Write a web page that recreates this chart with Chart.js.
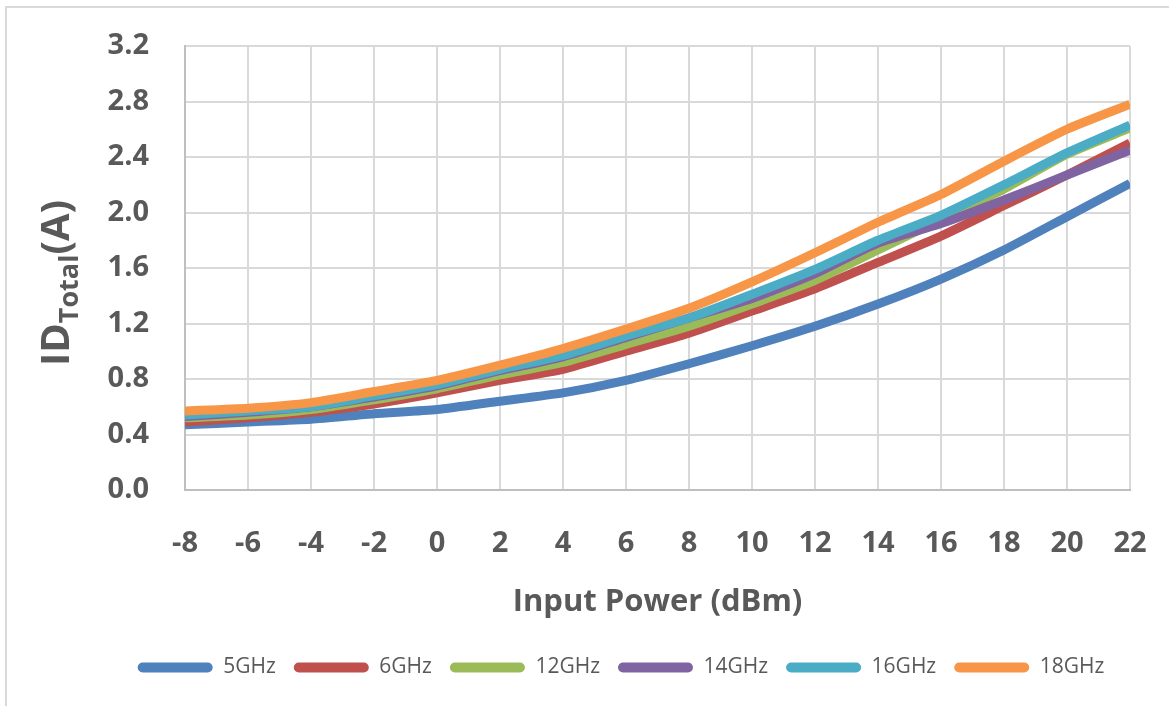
<!DOCTYPE html>
<html>
<head>
<meta charset="utf-8">
<script src="https://cdn.jsdelivr.net/npm/chart.js@4.4.0/dist/chart.umd.min.js"></script>
<style>
  html, body { margin: 0; padding: 0; background: #fff; overflow: hidden; }
  #wrap { position: relative; width: 1169px; height: 706px; }
  #frame { position: absolute; left: 5px; top: 6px; width: 1200px; height: 760px; border: 2px solid #d9d9d9; box-sizing: border-box; }
  canvas { position: absolute; left: 0; top: 0; }
</style>
</head>
<body>
<div id="wrap">
  <div id="frame"></div>
  <canvas id="chart" width="1169" height="706"></canvas>
</div>
<script>
// input power sweep (dBm)
const power = [-8, -6, -4, -2, 0, 2, 4, 6, 8, 10, 12, 14, 16, 18, 20, 22];

// total drain current (A) per frequency
const f5GHz  = [0.47, 0.49, 0.51, 0.55, 0.58, 0.64, 0.70, 0.79, 0.91, 1.04, 1.18, 1.34, 1.52, 1.73, 1.97, 2.21];
const f6GHz  = [0.49, 0.52, 0.56, 0.62, 0.70, 0.79, 0.87, 1.00, 1.13, 1.29, 1.45, 1.64, 1.83, 2.05, 2.27, 2.50];
const f12GHz = [0.52, 0.54, 0.58, 0.65, 0.73, 0.83, 0.92, 1.05, 1.18, 1.34, 1.51, 1.73, 1.95, 2.17, 2.42, 2.61];
const f14GHz = [0.53, 0.56, 0.60, 0.67, 0.75, 0.86, 0.96, 1.10, 1.24, 1.38, 1.56, 1.78, 1.92, 2.09, 2.27, 2.45];
const f16GHz = [0.54, 0.57, 0.60, 0.68, 0.76, 0.87, 0.97, 1.11, 1.24, 1.41, 1.59, 1.80, 1.98, 2.20, 2.43, 2.63];
const f18GHz = [0.57, 0.59, 0.63, 0.71, 0.79, 0.90, 1.02, 1.16, 1.31, 1.50, 1.71, 1.93, 2.13, 2.37, 2.60, 2.78];

const seriesNames = ["5GHz", "6GHz", "12GHz", "14GHz", "16GHz", "18GHz"];
const seriesData = [f5GHz, f6GHz, f12GHz, f14GHz, f16GHz, f18GHz];
const seriesColors = ["#4f81bd", "#c0504d", "#9bbb59", "#8064a2", "#4bacc6", "#f79646"];

const FONT = "'Open Sans', sans-serif";
const GREY = "#595959";

let datasets = [];
for (let i = 0; i < seriesNames.length; i++) {
    datasets.push({
        label: seriesNames[i],
        data: seriesData[i].map((v, j) => ({x: power[j], y: v})),
        borderColor: seriesColors[i],
        backgroundColor: seriesColors[i],
        borderWidth: 9,
        pointRadius: 0,
        tension: 0.2,
        // later series on top, like the original
        order: seriesNames.length - i
    });
}

// y axis title with subscript: ID_Total(A)
const yTitle = {
    id: "yTitle",
    afterDraw(chart) {
        let ctx = chart.ctx;
        ctx.save();
        ctx.translate(58, 283);
        ctx.rotate(-Math.PI / 2);
        ctx.fillStyle = GREY;
        ctx.textBaseline = "middle";
        let big = "bold 40px " + FONT;
        let small = "bold 27px " + FONT;
        ctx.font = big;
        let w1 = ctx.measureText("ID").width;
        let w3 = ctx.measureText("(A)").width;
        ctx.font = small;
        let w2 = ctx.measureText("Total").width;
        let x = -(w1 + w2 + w3) / 2;
        ctx.font = big;
        ctx.fillText("ID", x, 0);
        ctx.font = small;
        ctx.fillText("Total", x + w1, 12);
        ctx.font = big;
        ctx.fillText("(A)", x + w1 + w2, 0);
        ctx.restore();
    }
};

// the original legend sits a bit right of centre
const legendShift = {
    id: "legendShift",
    afterLayout(chart) {
        chart.legend.left += 56;
        chart.legend.right += 56;
    }
};

// tick marks are invisible, their length just pushes the labels away
const gridOpts = { color: "#d9d9d9", lineWidth: 2, drawTicks: true, tickLength: 36, tickColor: "rgba(0,0,0,0)" };

new Chart("chart", {
    type: "line",
    data: { datasets: datasets },
    options: {
        responsive: false,
        animation: false,
        events: [],
        layout: { padding: { left: 0, right: 39, top: 46, bottom: 18 } },
        scales: {
            x: {
                type: "linear",
                min: -8,
                max: 22,
                afterFit: s => { s.height = 149; },
                ticks: {
                    stepSize: 2,
                    padding: 0,
                    color: GREY,
                    font: { family: FONT, size: 29, weight: "bold" }
                },
                grid: gridOpts,
                border: { color: "#bfbfbf", width: 2 },
                title: {
                    display: true,
                    text: "Input Power (dBm)",
                    color: GREY,
                    padding: { top: 0, bottom: 18 },
                    font: { family: FONT, size: 31, weight: "bold" }
                }
            },
            y: {
                min: 0,
                max: 3.2,
                afterFit: s => { s.width = 185; },
                ticks: {
                    stepSize: 0.4,
                    padding: 0,
                    color: GREY,
                    font: { family: FONT, size: 29, weight: "bold" },
                    callback: v => v.toFixed(1)
                },
                grid: gridOpts,
                border: { color: "#bfbfbf", width: 2 }
            }
        },
        plugins: {
            tooltip: { enabled: false },
            legend: {
                position: "bottom",
                labels: {
                    boxWidth: 75,
                    boxHeight: 10,
                    padding: 18,
                    color: GREY,
                    useBorderRadius: true,
                    borderRadius: 5,
                    font: { family: FONT, size: 21 },
                    sort: (a, b) => a.datasetIndex - b.datasetIndex,
                    generateLabels: chart => {
                        let items = Chart.defaults.plugins.legend.labels.generateLabels(chart);
                        for (let it of items) { it.lineWidth = 0; }
                        return items;
                    }
                }
            }
        }
    },
    plugins: [yTitle, legendShift]
});
</script>
</body>
</html>
